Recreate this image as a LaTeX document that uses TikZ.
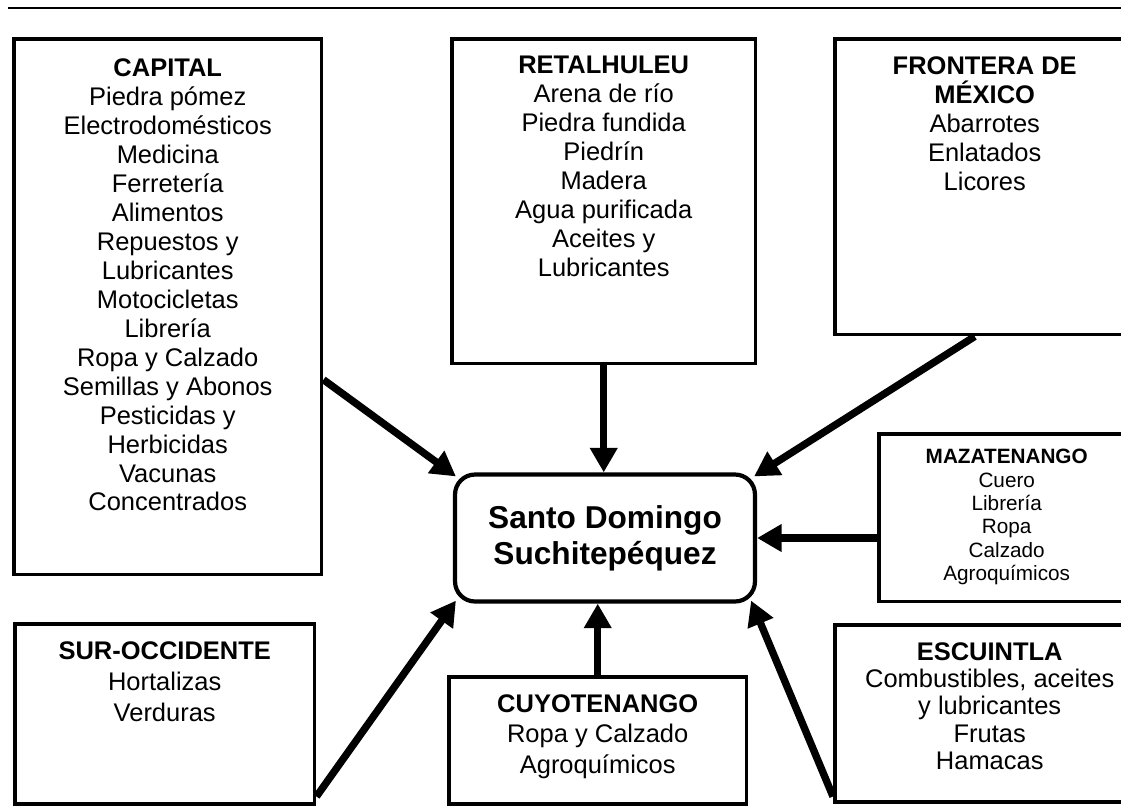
\documentclass[tikz,border=0pt]{standalone}
\usepackage{fontspec}
\setmainfont{Liberation Sans}
\usetikzlibrary{positioning,calc,arrows.meta}

\begin{document}
\begin{tikzpicture}[x=0.02cm, y=-0.02cm,
        region/.style={draw, line width=2pt, anchor=north west, inner sep=0pt},
        goods/.style={font=\fontsize{14.5}{16.5}\selectfont, align=center, inner sep=0pt, anchor=north, yshift=-0.38cm},
        hub/.style={draw, line width=2.4pt, rounded corners=0.4cm, minimum width=6cm, minimum height=2.54cm, align=center, font=\bfseries\fontsize{18}{20.5}\selectfont},
        flow/.style={line width=4.2pt, -{Triangle[length=14pt,width=15pt]}}
    ]
    \clip (0,0) rectangle (1121,806);
    \draw[line width=1.6pt] (8,8) -- (1130,8);

    \node[hub] (sdom) at (605,538) {Santo Domingo\\Suchitepéquez};

    \node[region, minimum width=6.16cm, minimum height=10.72cm, label={[goods, yshift=-0.04cm]north:{\textbf{CAPITAL}\\Piedra pómez\\Electrodomésticos\\Medicina\\Ferretería\\Alimentos\\Repuestos y\\Lubricantes\\Motocicletas\\Librería\\Ropa y Calzado\\Semillas y Abonos\\Pesticidas y\\Herbicidas\\Vacunas\\Concentrados}}] (capital) at (12,37) {};
    \node[region, minimum width=6.08cm, minimum height=6.5cm, label={[goods]north:{\textbf{RETALHULEU}\\Arena de río\\Piedra fundida\\Piedrín\\Madera\\Agua purificada\\Aceites y\\Lubricantes}}] (retal) at (450,37) {};
    \node[region, minimum width=6cm, minimum height=5.92cm, label={[goods]north:{\textbf{FRONTERA DE}\\\textbf{MÉXICO}\\Abarrotes\\Enlatados\\Licores}}] (frontera) at (833,37) {};
    \node[region, minimum width=5.12cm, minimum height=3.36cm, label={[goods, yshift=0.04cm, font=\fontsize{11.8}{13.3}\selectfont]north:{\textbf{MAZATENANGO}\\Cuero\\Librería\\Ropa\\Calzado\\Agroquímicos}}] (maza) at (877,432) {};
    \node[region, minimum width=6cm, minimum height=3.6cm, label={[goods, font=\fontsize{14.5}{17.6}\selectfont]north:{\textbf{SUR-OCCIDENTE}\\Hortalizas\\Verduras}}] (surocc) at (13,622) {};
    \node[region, minimum width=5.96cm, minimum height=2.54cm, label={[goods, font=\fontsize{14.5}{17.4}\selectfont]north:{\textbf{CUYOTENANGO}\\Ropa y Calzado\\Agroquímicos}}] (cuyo) at (447,675) {};
    \node[region, minimum width=6.2cm, minimum height=3.54cm, label={[goods, font=\fontsize{14.5}{15.6}\selectfont]north:{\textbf{ESCUINTLA}\\Combustibles, aceites\\y lubricantes\\Frutas\\Hamacas}}] (escu) at (833,623) {};

    % flows into the centre
    \draw[flow] ($(capital.east)+(0,73)$) -- ($(sdom.north west)+(3,4)$);
    \draw[flow] (retal.south) -- (retal.south |- sdom.north);
    \draw[flow] ($(frontera.south)+(-10,0)$) -- ($(sdom.north east)+(-3,4)$);
    \draw[flow] (maza.west |- sdom.east) -- (sdom.east);
    \draw[flow] ($(surocc.south east)+(0,-9)$) -- ($(sdom.south west)+(3,-3)$);
    \draw[flow] (cuyo.north) -- (cuyo.north |- sdom.south);
    \draw[flow] ($(escu.south west)+(0,-7)$) -- ($(sdom.south east)+(-6,-3)$);
\end{tikzpicture}
\end{document}
